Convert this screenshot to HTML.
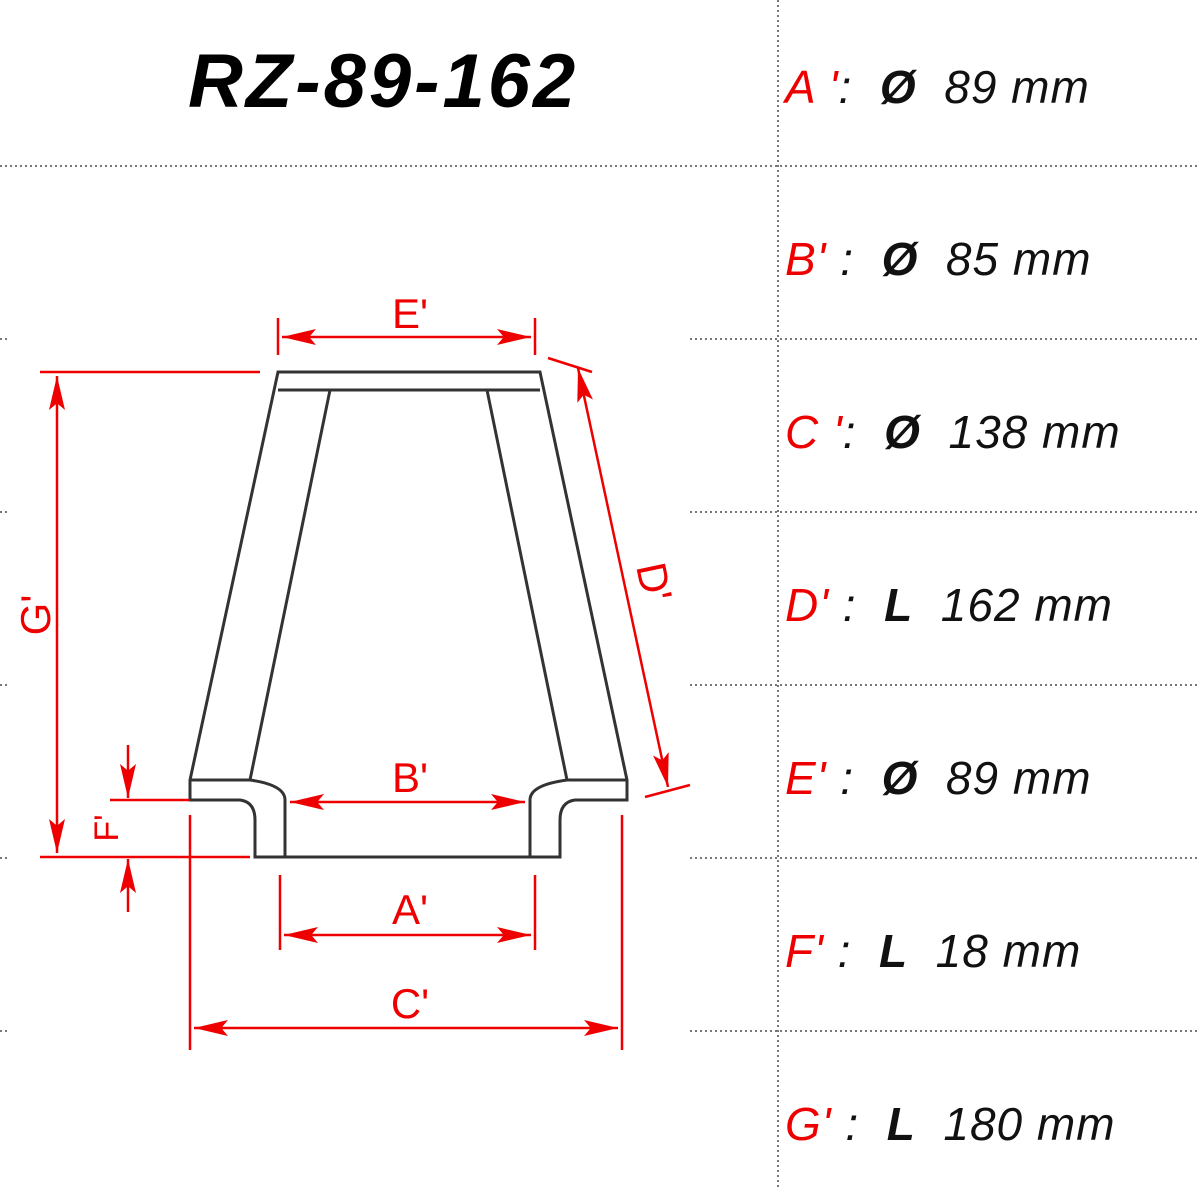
<!DOCTYPE html>
<html><head><meta charset="utf-8"><style>
body{margin:0;background:#fff;width:1200px;height:1190px;overflow:hidden;font-family:"Liberation Sans",sans-serif}
.r{position:absolute;left:785px;font-size:46px;font-style:italic;color:#111;white-space:pre;letter-spacing:1px}
.r b{color:#e00;font-weight:normal}
.r i{font-weight:bold}
</style></head><body>
<svg width="1200" height="1190" style="position:absolute;left:0;top:0">
<defs>
<marker id="a" viewBox="0 0 10 10" refX="10" refY="5" markerWidth="34" markerHeight="16" markerUnits="userSpaceOnUse" preserveAspectRatio="none" orient="auto-start-reverse"><path d="M0,0L10,5L0,10L2,5z" fill="#e00"/></marker>
</defs>
<g stroke="#777" stroke-width="2" stroke-dasharray="2,3">
<line x1="0" y1="166" x2="1200" y2="166"/>
<line x1="778" y1="0" x2="778" y2="1190"/>
<line x1="690" y1="339" x2="1200" y2="339"/>
<line x1="690" y1="512" x2="1200" y2="512"/>
<line x1="690" y1="685" x2="1200" y2="685"/>
<line x1="690" y1="858" x2="1200" y2="858"/>
<line x1="690" y1="1031" x2="1200" y2="1031"/>
<line x1="0" y1="339" x2="10" y2="339"/><line x1="0" y1="512" x2="10" y2="512"/><line x1="0" y1="685" x2="10" y2="685"/><line x1="0" y1="858" x2="10" y2="858"/><line x1="0" y1="1031" x2="10" y2="1031"/>
</g>
<g stroke="#333" stroke-width="3" fill="none">
<path d="M278,372H540L627,780V800H575Q560,802 560,820V857H255V820Q255,802 240,800H190V780Z"/>
<line x1="278" y1="390" x2="540" y2="390"/>
<path d="M330,390L250,780M487,390L567,780"/>
<path d="M190,780H250Q285,785 285,800V857M627,780H567Q530,785 530,800V857"/>
<path d="M285,806V855M530,806V855" stroke-dasharray="2,2" stroke-width="2"/>
</g>
<g stroke="#e00" stroke-width="2.5" fill="none">
<line x1="278" y1="318" x2="278" y2="355"/><line x1="535" y1="318" x2="535" y2="355"/>
<line x1="282" y1="337" x2="531" y2="337" marker-start="url(#a)" marker-end="url(#a)"/>
<line x1="40" y1="372" x2="260" y2="372"/><line x1="40" y1="857" x2="250" y2="857"/>
<line x1="57" y1="376" x2="57" y2="853" marker-start="url(#a)" marker-end="url(#a)"/>
<line x1="110" y1="800" x2="190" y2="800"/>
<line x1="128" y1="745" x2="128" y2="798" marker-end="url(#a)"/>
<line x1="128" y1="912" x2="128" y2="859" marker-end="url(#a)"/>
<line x1="290" y1="802" x2="525" y2="802" marker-start="url(#a)" marker-end="url(#a)"/>
<line x1="280" y1="875" x2="280" y2="950"/><line x1="535" y1="875" x2="535" y2="950"/>
<line x1="284" y1="935" x2="531" y2="935" marker-start="url(#a)" marker-end="url(#a)"/>
<line x1="190" y1="815" x2="190" y2="1050"/><line x1="622" y1="815" x2="622" y2="1050"/>
<line x1="194" y1="1028" x2="618" y2="1028" marker-start="url(#a)" marker-end="url(#a)"/>
<line x1="548" y1="358" x2="592" y2="372"/><line x1="645" y1="797" x2="690" y2="785"/>
<line x1="578" y1="368" x2="668" y2="787" marker-start="url(#a)" marker-end="url(#a)"/>
</g>
<g fill="#e00" font-size="42" font-family="Liberation Sans" text-anchor="middle">
<text x="410" y="328">E'</text>
<text x="410" y="792">B'</text>
<text x="410" y="924">A'</text>
<text x="410" y="1018">C'</text>
<text transform="translate(50,615) rotate(-90)">G'</text>
<text transform="translate(118,828) rotate(-90)" font-size="34">F'</text>
<text transform="translate(640,585) rotate(78)">D'</text>
</g>
</svg>
<div style="position:absolute;left:188px;top:38px;font-size:76px;font-weight:bold;font-style:italic;color:#000;letter-spacing:3px">RZ-89-162</div>
<div class="r" style="top:60px"><b>A '</b>:  <i>Ø</i>  89 mm</div>
<div class="r" style="top:232px"><b>B'</b> :  <i>Ø</i>  85 mm</div>
<div class="r" style="top:405px"><b>C '</b>:  <i>Ø</i>  138 mm</div>
<div class="r" style="top:578px"><b>D'</b> :  <i>L</i>  162 mm</div>
<div class="r" style="top:751px"><b>E'</b> :  <i>Ø</i>  89 mm</div>
<div class="r" style="top:924px"><b>F'</b> :  <i>L</i>  18 mm</div>
<div class="r" style="top:1097px"><b>G'</b> :  <i>L</i>  180 mm</div>
</body></html>
